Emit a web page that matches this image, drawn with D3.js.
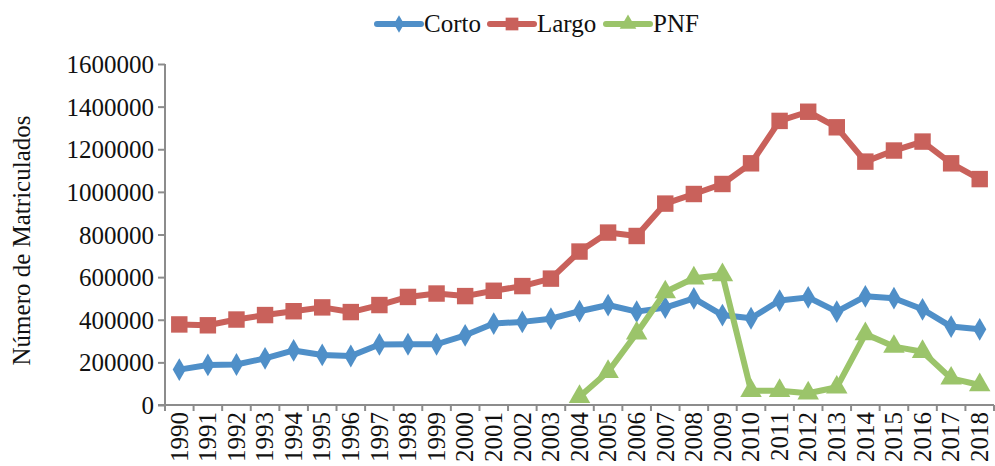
<!DOCTYPE html>
<html>
<head>
<meta charset="utf-8">
<script src="https://cdn.jsdelivr.net/npm/d3@7"></script>
<style>
  body { margin: 0; background: #fff; }
  text { font-family: "Liberation Serif", "DejaVu Serif", serif; fill: #111; }
</style>
</head>
<body>
<div id="chart"></div>
<script>
// data
var years = ["1990","1991","1992","1993","1994","1995","1996","1997","1998","1999",
             "2000","2001","2002","2003","2004","2005","2006","2007","2008","2009",
             "2010","2011","2012","2013","2014","2015","2016","2017","2018"];
var corto = [166000, 188000, 190000, 219000, 256000, 235000, 230000, 284000, 285000, 285000,
             327000, 382000, 390000, 405000, 440000, 469000, 438000, 457000, 500000, 422000,
             407000, 490000, 505000, 438000, 510000, 501000, 449000, 368000, 355000];
var largo = [378000, 374000, 401000, 422000, 440000, 458000, 436000, 469000, 507000, 523000,
             511000, 536000, 558000, 593000, 720000, 809000, 793000, 945000, 990000, 1037000,
             1134000, 1333000, 1376000, 1303000, 1142000, 1194000, 1236000, 1134000, 1060000];
var pnf = [null, null, null, null, null, null, null, null, null, null,
           null, null, null, null, 39000, 156000, 337000, 530000, 595000, 610000,
           67000, 67000, 55000, 83000, 333000, 274000, 250000, 125000, 94000];
var yTicks = [0, 200000, 400000, 600000, 800000, 1000000, 1200000, 1400000, 1600000];

var series = [
    { name: "Corto", values: corto, color: "#4F8FC8", symbol: d3.symbolDiamond, size: 150 },
    { name: "Largo", values: largo, color: "#C9615B", symbol: d3.symbolSquare, size: 270 },
    { name: "PNF", values: pnf, color: "#9BC46A", symbol: d3.symbolTriangle, size: 200 }
];

var width = 995, height = 466;
var plotLeft = 165, plotRight = 994, plotTop = 64, plotBottom = 405;

var svg = d3.select("#chart").append("svg").attr("width", width).attr("height", height);

var x_scale = d3.scaleBand().domain(years).range([plotLeft, plotRight]);
var y_scale = d3.scaleLinear().domain([0, 1600000]).range([plotBottom, plotTop]);

// axes
var y_axis = d3.axisLeft(y_scale).tickValues(yTicks).tickSize(7).tickPadding(4).tickFormat(d3.format("d"));
var gy = svg.append("g").attr("transform", "translate(" + plotLeft + ",0)").call(y_axis);
gy.selectAll("text").style("font-size", "25px").attr("dy", "0.34em");

var x_axis = d3.axisBottom(x_scale).tickSize(0).tickPadding(0);
var gx = svg.append("g").attr("transform", "translate(0," + plotBottom + ")").call(x_axis);
gx.selectAll("text")
    .style("font-size", "25px")
    .attr("transform", "rotate(-90)")
    .attr("x", -7)
    .attr("y", 0)
    .attr("dy", "0.33em")
    .style("text-anchor", "end");
// category boundary ticks
gx.selectAll("line.sep")
    .data(years.concat(["end"]))
    .enter().append("line")
    .attr("class", "sep")
    .attr("x1", function (d, i) { return plotLeft + i * x_scale.step(); })
    .attr("x2", function (d, i) { return plotLeft + i * x_scale.step(); })
    .attr("y1", 0).attr("y2", 6);

svg.selectAll(".domain, .tick line, line.sep")
    .attr("stroke", "#8c8c8c").attr("stroke-width", 2);
gx.select(".domain").attr("d", "M" + (plotLeft - 7) + ",0H" + plotRight);
gy.select(".domain").attr("d", "M0," + plotTop + "V" + plotBottom);

// lines + markers
var xc = function (i) { return x_scale(years[i]) + x_scale.bandwidth() / 2; };
series.forEach(function (s) {
    var line = d3.line()
        .defined(function (d) { return d !== null; })
        .x(function (d, i) { return xc(i); })
        .y(function (d) { return y_scale(d); });
    svg.append("path")
        .datum(s.values)
        .attr("d", line)
        .attr("fill", "none")
        .attr("stroke", s.color)
        .attr("stroke-width", 6)
        .attr("stroke-linejoin", "round");
    svg.selectAll(null)
        .data(s.values.map(function (v, i) { return { v: v, i: i }; }).filter(function (d) { return d.v !== null; }))
        .enter().append("path")
        .attr("d", d3.symbol().type(s.symbol).size(s.size))
        .attr("transform", function (d) { return "translate(" + xc(d.i) + "," + y_scale(d.v) + ")"; })
        .attr("fill", s.color);
});

// legend
var legendX = [377, 490, 606];
series.forEach(function (s, k) {
    var g = svg.append("g").attr("transform", "translate(" + legendX[k] + ",24)");
    g.append("line").attr("x1", 0).attr("x2", 44).attr("y1", 0).attr("y2", 0)
        .attr("stroke", s.color).attr("stroke-width", 6).attr("stroke-linecap", "round");
    g.append("path").attr("d", d3.symbol().type(s.symbol).size(s.size * 0.6))
        .attr("transform", "translate(22,0)").attr("fill", s.color);
    g.append("text").attr("x", 47).attr("y", 0).attr("dy", "0.33em")
        .style("font-size", "25px").text(s.name);
});

// y title
svg.append("text")
    .attr("transform", "translate(30," + ((plotTop + plotBottom) / 2 + 6) + ")rotate(-90)")
    .style("text-anchor", "middle")
    .style("font-size", "25px")
    .text("Número de Matriculados");
</script>
</body>
</html>
